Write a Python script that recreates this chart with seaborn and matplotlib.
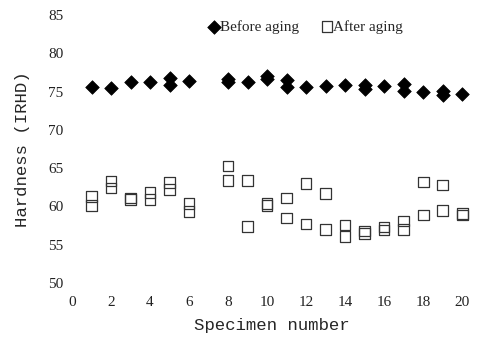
import pandas as pd
import matplotlib
matplotlib.use('Agg')
import matplotlib.pyplot as plt
import seaborn as sns

before_specimen = [1, 2, 3, 4, 5, 5, 6, 8, 8, 9, 10, 10, 11, 11, 12, 13, 14, 15, 15,
                   16, 17, 17, 18, 19, 19, 20]
before_hardness = [75.6, 75.5, 76.2, 76.3, 76.8, 75.9, 76.4, 76.6, 76.3, 76.3, 77.0, 76.7,
                   76.5, 75.6, 75.6, 75.7, 75.8, 75.8, 75.4, 75.7, 76.0, 75.1, 74.9, 75.1,
                   74.5, 74.7]

after_specimen = [1, 1, 2, 2, 3, 3, 4, 4, 5, 5, 6, 6, 8, 8, 9, 9, 10, 10, 11, 11, 12, 12,
                  13, 13, 14, 14, 15, 15, 16, 16, 17, 17, 18, 18, 19, 19, 20, 20]
after_hardness = [61.3, 60.1, 63.3, 62.4, 61.1, 60.9, 61.8, 60.9, 63.1, 62.2, 60.4, 59.3,
                  65.3, 63.4, 63.4, 57.4, 60.4, 60.1, 61.1, 58.5, 63.0, 57.7, 61.7, 57.0,
                  57.6, 56.1, 56.8, 56.5, 57.3, 56.9, 58.1, 57.0, 63.2, 58.9, 62.8, 59.5,
                  59.1, 58.9]

x_ticks = [0, 2, 4, 6, 8, 10, 12, 14, 16, 18, 20]
y_ticks = [50, 55, 60, 65, 70, 75, 80, 85]

before_df = pd.DataFrame({'Specimen': before_specimen, 'Hardness': before_hardness})
after_df = pd.DataFrame({'Specimen': after_specimen, 'Hardness': after_hardness})

sns.set_style('white')
plt.rcParams['font.family'] = ['Liberation Serif', 'DejaVu Serif']

fig = plt.figure(figsize=(4.82, 3.39), dpi=100)
ax = fig.add_axes([72 / 482, 56 / 339, 400 / 482, 268 / 339])

sns.scatterplot(data=before_df, x='Specimen', y='Hardness', marker='D', s=48,
                color='black', edgecolor='black', linewidth=0.5,
                label='Before aging', ax=ax)
sns.scatterplot(data=after_df, x='Specimen', y='Hardness', marker='s', s=58,
                facecolor='none', edgecolor='#333333', linewidth=0.9,
                label='After aging', ax=ax)

ax.set_xlim(0, 20.5)
ax.set_ylim(50, 85)
ax.set_xticks(x_ticks)
ax.set_yticks(y_ticks)
ax.tick_params(axis='x', length=0, pad=9, labelsize=11, colors='#222222')
ax.tick_params(axis='y', length=0, pad=6, labelsize=11, colors='#222222')
for sp in ax.spines.values():
    sp.set_visible(False)

ax.set_xlabel('Specimen number', fontsize=12.5, family=['Liberation Mono'], labelpad=7)
ax.set_ylabel('Hardness (IRHD)', fontsize=12.5, family=['Liberation Mono'], labelpad=13)

ax.legend(loc='upper center', bbox_to_anchor=(0.58, 1.01), ncol=2, frameon=False,
          handletextpad=-0.2, columnspacing=1.2, fontsize=11, borderaxespad=0.1,
          handlelength=1.2)

fig.savefig('out.png', dpi=100)
